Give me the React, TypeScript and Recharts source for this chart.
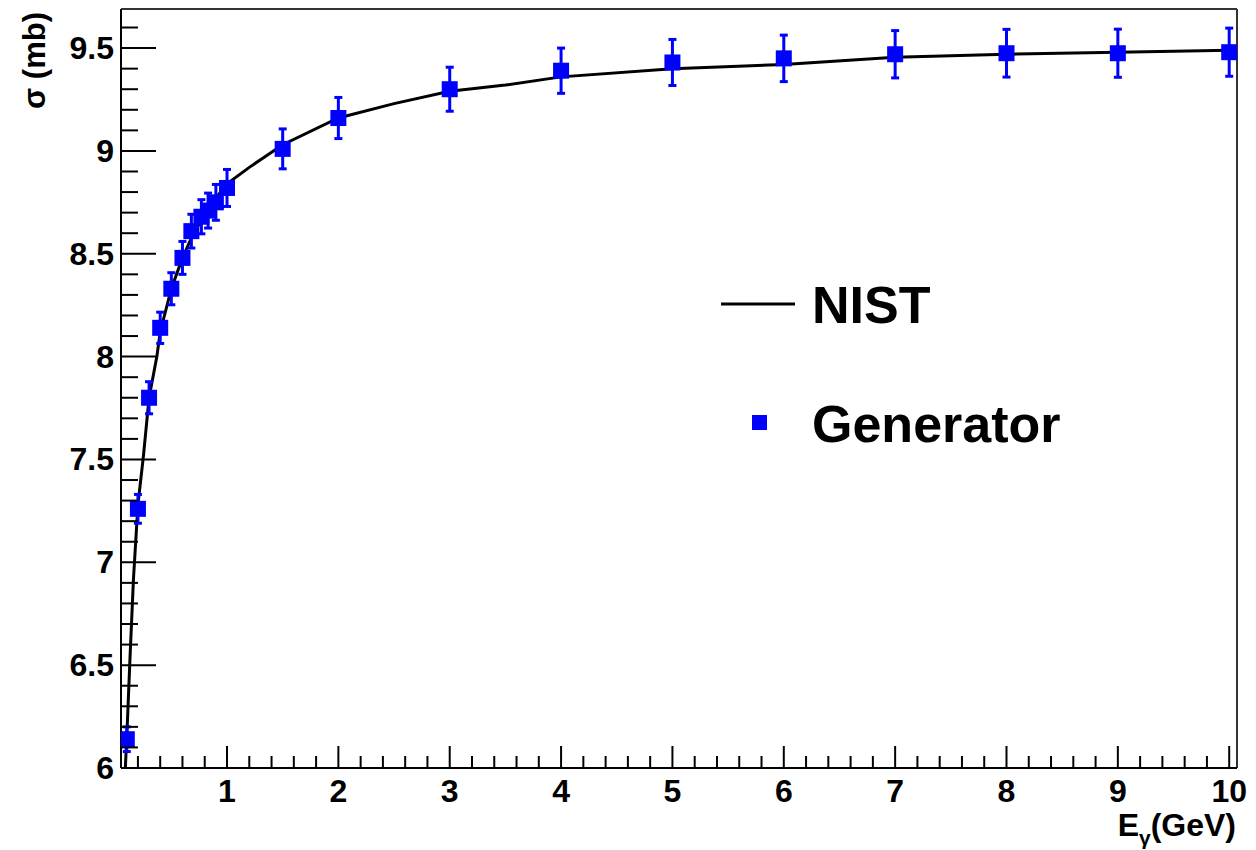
import {
  ComposedChart,
  XAxis,
  YAxis,
  Line,
  Scatter,
  ErrorBar,
  ReferenceLine,
} from "recharts";

// Generator points (E in GeV, sigma in mb, error in mb)
const genEnergy = [0.1, 0.2, 0.3, 0.4, 0.5, 0.6, 0.68, 0.77, 0.83, 0.9, 1.0, 1.5, 2, 3, 4, 5, 6, 7, 8, 9, 10];
const genSigma = [6.14, 7.26, 7.8, 8.14, 8.33, 8.48, 8.61, 8.68, 8.71, 8.75, 8.82, 9.01, 9.16, 9.3, 9.39, 9.43, 9.45, 9.47, 9.475, 9.475, 9.48];
const genError = [0.06, 0.07, 0.078, 0.076, 0.078, 0.08, 0.082, 0.083, 0.085, 0.087, 0.09, 0.097, 0.1, 0.107, 0.11, 0.112, 0.113, 0.115, 0.116, 0.117, 0.117];

// NIST curve
const nistEnergy = [0.06, 0.08, 0.1, 0.13, 0.16, 0.2, 0.25, 0.3, 0.37, 0.4, 0.5, 0.6, 0.7, 0.8, 0.9, 1.0, 1.2, 1.5, 2.0, 2.5, 3.0, 3.5, 4, 5, 6, 7, 8, 9, 10];
const nistSigma = [5.7, 5.92, 6.15, 6.55, 6.92, 7.28, 7.52, 7.8, 8.0, 8.12, 8.33, 8.48, 8.6, 8.69, 8.77, 8.84, 8.92, 9.03, 9.16, 9.23, 9.29, 9.32, 9.36, 9.4, 9.42, 9.455, 9.47, 9.48, 9.49];

const xDomain: [number, number] = [0.048, 10.07];
const yDomain: [number, number] = [6, 9.69];

// ticks: majors every 1 (x) / 0.5 (y), minors every 0.2 (x) / 0.1 (y)
const xTicks: number[] = [];
for (let i = 1; i <= 50; i++) xTicks.push(Math.round(i * 2) / 10);
const yTicks: number[] = [];
for (let i = 60; i <= 96; i++) yTicks.push(i / 10);

const series = [
  { name: "NIST", color: "#000000", kind: "line" },
  { name: "Generator", color: "#0000ff", kind: "marker" },
];

const genData = genEnergy.map((x, i) => ({ x, y: genSigma[i], err: genError[i] }));
const nistData = nistEnergy.map((x, i) => ({ x, y: nistSigma[i] }));

const FONT = "'Liberation Sans', Arial, Helvetica, sans-serif";

const isInt = (v: number) => Math.abs(v - Math.round(v)) < 1e-6;

const XTick = (props: any) => {
  const { x, y, payload } = props;
  const v = payload.value;
  const major = isInt(v);
  return (
    <g>
      <line x1={x} x2={x} y1={y} y2={y - (major ? 22 : 12)} stroke="#000" strokeWidth={2} />
      {major && (
        <text x={x} y={y + 34} textAnchor="middle" fontFamily={FONT} fontWeight="bold" fontSize={32} fill="#000">
          {Math.round(v)}
        </text>
      )}
    </g>
  );
};

const YTick = (props: any) => {
  const { x, y, payload } = props;
  const v = payload.value;
  const major = isInt(v * 2);
  return (
    <g>
      <line x1={x} x2={x + (major ? 35 : 17)} y1={y} y2={y} stroke="#000" strokeWidth={2} />
      {major && (
        <text x={x - 7} y={y + 11} textAnchor="end" fontFamily={FONT} fontWeight="bold" fontSize={32} fill="#000">
          {String(Math.round(v * 10) / 10)}
        </text>
      )}
    </g>
  );
};

const Square = (props: any) => {
  const { cx, cy } = props;
  if (cx == null || cy == null) return null;
  return <rect x={cx - 8} y={cy - 8} width={16} height={16} fill="#0000ff" />;
};

export default function App() {
  return (
    <div style={{ position: "absolute", left: 0, top: 0, width: 1256, height: 850, background: "#fff" }}>
      <ComposedChart width={1256} height={850} margin={{ top: 9, right: 19, bottom: 81, left: 120 }}>
        <XAxis
          type="number"
          dataKey="x"
          domain={xDomain}
          allowDataOverflow
          ticks={xTicks}
          interval={0}
          height={1}
          tickSize={0}
          tickMargin={0}
          tickLine={false}
          tick={<XTick />}
          axisLine={{ stroke: "#000", strokeWidth: 2 }}
        />
        <YAxis
          type="number"
          dataKey="y"
          domain={yDomain}
          allowDataOverflow
          ticks={yTicks}
          interval={0}
          width={1}
          tickSize={0}
          tickMargin={0}
          tickLine={false}
          tick={<YTick />}
          axisLine={{ stroke: "#000", strokeWidth: 2 }}
        />
        <ReferenceLine y={yDomain[1]} stroke="#333" strokeWidth={2} />
        <ReferenceLine x={xDomain[1]} stroke="#333" strokeWidth={2} />
        <Line
          data={nistData}
          dataKey="y"
          type="linear"
          stroke="#000"
          strokeWidth={3}
          dot={false}
          activeDot={false}
          isAnimationActive={false}
        />
        <Scatter data={genData} dataKey="y" fill="#0000ff" shape={<Square />} isAnimationActive={false}>
          <ErrorBar dataKey="err" direction="y" width={4} stroke="#0000ff" strokeWidth={3} isAnimationActive={false} />
        </Scatter>
      </ComposedChart>
      <svg width={1256} height={850} style={{ position: "absolute", left: 0, top: 0, pointerEvents: "none" }}>
        <text
          transform="translate(45, 12) rotate(-90)"
          textAnchor="end"
          fontFamily={FONT}
          fontWeight="bold"
          fontSize={31}
          fill="#000"
        >
          σ (mb)
        </text>
        <text x={1236} y={836} textAnchor="end" fontFamily={FONT} fontWeight="bold" fontSize={32} fill="#000">
          E
          <tspan fontSize={21} dy={9}>γ</tspan>
          <tspan dy={-9}>(GeV)</tspan>
        </text>
        {series.map((s, i) => {
          const cy = 304 + i * 119;
          return (
            <g key={s.name}>
              {s.kind === "line" ? (
                <line x1={721} x2={795} y1={cy} y2={cy} stroke={s.color} strokeWidth={3} />
              ) : (
                <rect x={752} y={cy - 8} width={15} height={15} fill={s.color} />
              )}
              <text x={812} y={cy + 19} fontFamily={FONT} fontWeight="bold" fontSize={52} fill="#000">
                {s.name}
              </text>
            </g>
          );
        })}
      </svg>
    </div>
  );
}
